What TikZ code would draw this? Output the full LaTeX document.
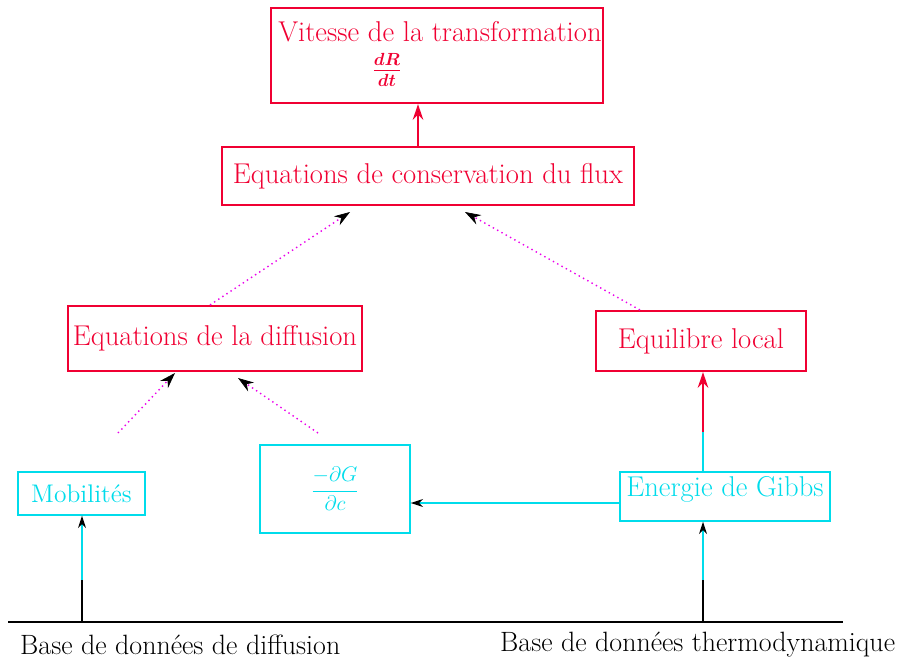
\documentclass[tikz,border=0pt]{standalone}
\usepackage{amsmath}
\usepackage{fontspec}
\usepackage{tikz}
\usetikzlibrary{arrows.meta, positioning, calc}
\definecolor{boxred}{RGB}{240, 0, 50}
\definecolor{dotmagenta}{RGB}{235, 0, 235}
\definecolor{boxcyan}{RGB}{0, 220, 235}
\newcommand{\diagfont}{\fontsize{16.3}{19}\selectfont}

\begin{document}
\begin{tikzpicture}[
    x=0.02cm, y=-0.02cm,
    redbox/.style={
        rectangle, draw=boxred, line width=1.2pt, text=boxred, inner sep=0pt, font=\diagfont
    },
    cyanbox/.style={
        rectangle, draw=boxcyan, line width=0.8pt, text=boxcyan, inner sep=0pt, font=\diagfont
    },
    baselabel/.style={anchor=west, font=\fontsize{15.9}{19}\selectfont},
    redarrow/.style={
        line width=1.2pt, color=boxred, -{Stealth[length=9pt, width=6pt, color=boxred, fill=black]}
    },
    dotarrow/.style={
        dotted, line width=0.8pt, color=dotmagenta, -{Stealth[length=9pt, width=6pt, color=black, fill=black, line width=0.4pt]}
    },
    cyanarrow/.style={
        line width=0.8pt, color=boxcyan, -{Stealth[length=7pt, width=4.5pt, color=black, fill=black]}
    }
]
\useasboundingbox (0,0) rectangle (903,659);

% Nodes
\node[redbox, minimum width=6.64cm, minimum height=1.9cm] (vitesse) at (437,55.5) {};
\node[text=boxred, font=\diagfont, anchor=base west, inner sep=0pt] (vtitre) at (278,41) {Vitesse de la transformation};
\node[text=boxred, font=\Large, inner sep=0pt] (vfrac) at (387,70) {$\boldsymbol{\frac{dR}{dt}}$};
\node[redbox, minimum width=8.24cm, minimum height=1.16cm] (conservation) at (428,176) {Equations de conservation du flux};
\node[redbox, minimum width=5.88cm, minimum height=1.3cm] (diffusion) at (215,338.5) {Equations de la diffusion};
\node[redbox, minimum width=4.2cm, minimum height=1.2cm] (equilibre) at (701,341) {Equilibre local};
\node[cyanbox, minimum width=2.54cm, minimum height=0.86cm, font=\fontsize{14.5}{17}\selectfont] (mobilites) at (81.5,493.5) {Mobilit\'es};
\node[cyanbox, minimum width=3cm, minimum height=1.76cm, font=\large] (gradient) at (335,489) {$\displaystyle\frac{-\partial G}{\partial c}$};
\node[cyanbox, minimum width=4.2cm, minimum height=0.98cm] (gibbs) at (725,496.5) {};
\node[text=boxcyan, font=\diagfont, inner sep=0pt] (gibbstxt) at (725,489) {Energie de Gibbs};
\node[baselabel] (basediff) at (14,645) {Base de donn\'ees de diffusion};
\node[baselabel] (basethermo) at (494,645) {Base de donn\'ees thermodynamique};

% Free ends
\coordinate (tipa) at (350,212);
\coordinate (tipb) at (465,212);
\coordinate (starta) at (118,433);
\coordinate (startb) at (318,433);
\coordinate (tipd) at (175,373);
\coordinate (tipc) at (238,378);
\coordinate (gtop) at (703,432);
\coordinate (mstart) at (82,580);
\coordinate (gstart) at (703,580);
\coordinate (basel) at (8,622);
\coordinate (baser) at (843,622);

% Connections
\draw[redarrow] ([xshift=-0.2cm]conservation.north) -- ([xshift=-0.2cm]conservation.north |- vitesse.south);
\draw[dotarrow] ([xshift=-0.1cm]diffusion.north) -- (tipa);
\draw[dotarrow] ([xshift=0.9cm]equilibre.north west) -- (tipb);
\draw[dotarrow] (starta) -- (tipd);
\draw[dotarrow] (startb) -- (tipc);
\draw[boxcyan, line width=0.8pt] (gibbs.north -| gtop) -- (gtop);
\draw[redarrow] (gtop) -- (gtop |- equilibre.south);
\draw[cyanarrow] ([yshift=-0.13cm]gibbs.west) -- ([yshift=-0.13cm]gibbs.west -| gradient.east);
\draw[line width=1.2pt] (basel) -- (baser);
\draw[line width=0.8pt] (mstart |- basel) -- (mstart);
\draw[line width=0.8pt] (gstart |- basel) -- (gstart);
\draw[cyanarrow] (mstart) -- (mstart |- mobilites.south);
\draw[cyanarrow] (gstart) -- (gstart |- gibbs.south);

\end{tikzpicture}
\end{document}
